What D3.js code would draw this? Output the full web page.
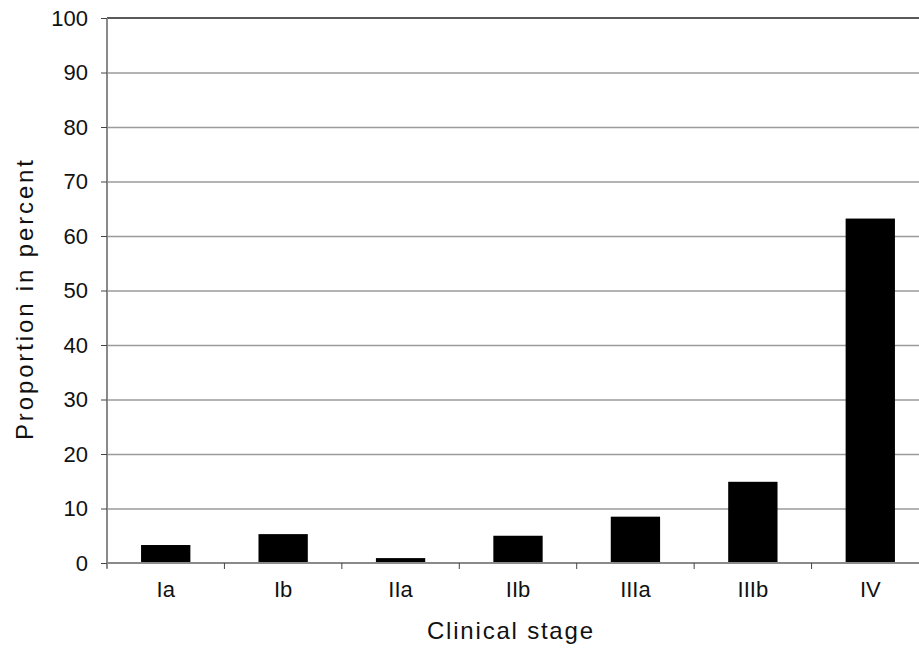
<!DOCTYPE html>
<html>
<head>
<meta charset="utf-8">
<script src="https://cdn.jsdelivr.net/npm/d3@7"></script>
<style>
  body { margin: 0; background: #fff; }
  svg { display: block; }
</style>
</head>
<body>
<div id="vizcontainer"></div>
<script>
const stages = ['Ia', 'Ib', 'IIa', 'IIb', 'IIIa', 'IIIb', 'IV'];
const percent = [3.3, 5.3, 0.9, 5.0, 8.5, 14.9, 63.2];
const yTicks = [0, 10, 20, 30, 40, 50, 60, 70, 80, 90, 100];

const
  width = 919,
  height = 648,
  plot = { left: 107, right: 929, top: 18, bottom: 563 },
  font = "'Liberation Sans', Arial, sans-serif"
  ;

const svg = d3.select('#vizcontainer')
  .append('svg')
  .attr('width', width)
  .attr('height', height);

const x = d3.scaleBand()
  .domain(stages)
  .range([plot.left, plot.right])
  .paddingInner(0.58)
  .paddingOuter(0.29);

const y = d3.scaleLinear()
  .domain([0, 100])
  .range([plot.bottom, plot.top]);

// gridlines
const grid = svg.append('g')
  .attr('transform', `translate(${plot.left},0)`)
  .call(d3.axisLeft(y).tickValues(yTicks.slice(1, -1)).tickSize(-(plot.right - plot.left)).tickFormat(''));
grid.select('.domain').remove();
grid.selectAll('line').attr('stroke', '#9a9a9a').attr('stroke-width', 1.5);

// top border line at 100
svg.append('line')
  .attr('x1', plot.left).attr('x2', plot.right)
  .attr('y1', y(100)).attr('y2', y(100))
  .attr('stroke', '#222').attr('stroke-width', 1.5);

// bars
svg.append('g')
  .selectAll('rect')
  .data(stages.map((s, i) => ({ stage: s, value: percent[i] })))
  .join('rect')
  .attr('x', d => x(d.stage))
  .attr('y', d => y(d.value))
  .attr('width', x.bandwidth())
  .attr('height', d => y(0) - y(d.value))
  .attr('fill', '#000');

// x axis line
svg.append('line')
  .attr('x1', plot.left).attr('x2', plot.right)
  .attr('y1', y(0)).attr('y2', y(0))
  .attr('stroke', '#8a8a8a').attr('stroke-width', 2);

// category boundary ticks
const step = x.step();
const bounds = d3.range(stages.length + 1).map(i => plot.left + i * step);
svg.append('g')
  .selectAll('line')
  .data(bounds)
  .join('line')
  .attr('x1', d => d).attr('x2', d => d)
  .attr('y1', y(0)).attr('y2', y(0) + 6)
  .attr('stroke', '#444').attr('stroke-width', 1);

// x labels
const xAxis = svg.append('g')
  .attr('transform', `translate(0,${y(0)})`)
  .call(d3.axisBottom(x).tickSize(0).tickPadding(18));
xAxis.select('.domain').remove();
xAxis.selectAll('text')
  .attr('font-size', '22px')
  .attr('font-family', font)
  .attr('fill', '#111');

// y axis
const yAxis = svg.append('g')
  .attr('transform', `translate(${plot.left},0)`)
  .call(d3.axisLeft(y).tickValues(yTicks).tickSize(6).tickPadding(13));
yAxis.select('.domain')
  .attr('d', `M0,${plot.top}V${plot.bottom + 5}`)
  .attr('stroke', '#8a8a8a').attr('stroke-width', 2);
yAxis.selectAll('.tick line').attr('stroke', '#444');
yAxis.selectAll('text')
  .attr('font-size', '22px')
  .attr('font-family', font)
  .attr('fill', '#111');

// titles
svg.append('text')
  .text('Clinical stage')
  .attr('x', 510)
  .attr('y', 639)
  .attr('text-anchor', 'middle')
  .attr('font-family', font)
  .attr('font-size', '24px')
  .attr('textLength', 166)
  .attr('lengthAdjust', 'spacing')
  .attr('fill', '#111');

svg.append('text')
  .text('Proportion in percent')
  .attr('transform', 'translate(33,300) rotate(-90)')
  .attr('text-anchor', 'middle')
  .attr('font-family', font)
  .attr('font-size', '24px')
  .attr('textLength', 280)
  .attr('lengthAdjust', 'spacing')
  .attr('fill', '#111');
</script>
</body>
</html>
